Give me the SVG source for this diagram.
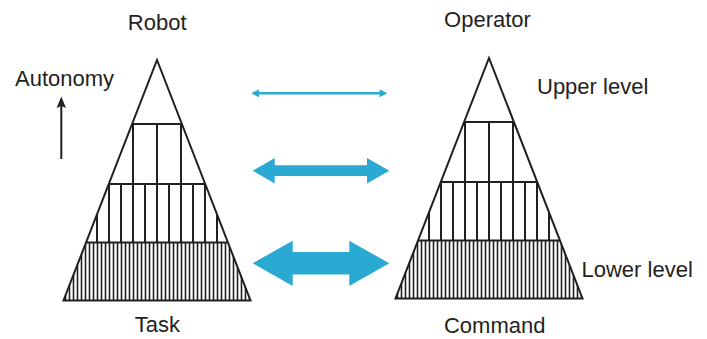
<svg xmlns="http://www.w3.org/2000/svg" xmlns:xlink="http://www.w3.org/1999/xlink" width="707" height="339" viewBox="0 0 707 339">
<style>
  .lbl { font-family: "Liberation Sans", Arial, sans-serif; font-size: 22px; fill: #231f20; }
  .mid { text-anchor: middle; }
  .ink { stroke: #231f20; fill: none; }
  .outline { stroke-width: 2; stroke-linejoin: miter; }
  .v12 { stroke-width: 2; }
  .v3 { stroke-width: 1.6; }
  .flow { fill: #2aa9d2; stroke: none; }
</style>
<defs>
  <clipPath id="triClip">
    <polygon points="157,60 250.5,300.5 63.5,300.5"/>
  </clipPath>
  <g id="pyramid">
    <g clip-path="url(#triClip)" class="ink">
      <path class="v12" d="M133,124V184 M157,124V184 M181,124V184"/>
      <path class="v12" d="M97,184V242.5 M109,184V242.5 M121,184V242.5 M133,184V242.5 M145,184V242.5 M157,184V242.5 M169,184V242.5 M181,184V242.5 M193,184V242.5 M205,184V242.5 M217,184V242.5"/>
      <path class="v3" d="M65.5,242.5V300.5 M69.5,242.5V300.5 M73.5,242.5V300.5 M77.5,242.5V300.5 M81.5,242.5V300.5 M85.5,242.5V300.5 M89.5,242.5V300.5 M93.5,242.5V300.5 M97.5,242.5V300.5 M101.5,242.5V300.5 M105.5,242.5V300.5 M109.5,242.5V300.5 M113.5,242.5V300.5 M117.5,242.5V300.5 M121.5,242.5V300.5 M125.5,242.5V300.5 M129.5,242.5V300.5 M133.5,242.5V300.5 M137.5,242.5V300.5 M141.5,242.5V300.5 M145.5,242.5V300.5 M149.5,242.5V300.5 M153.5,242.5V300.5 M157.5,242.5V300.5 M161.5,242.5V300.5 M165.5,242.5V300.5 M169.5,242.5V300.5 M173.5,242.5V300.5 M177.5,242.5V300.5 M181.5,242.5V300.5 M185.5,242.5V300.5 M189.5,242.5V300.5 M193.5,242.5V300.5 M197.5,242.5V300.5 M201.5,242.5V300.5 M205.5,242.5V300.5 M209.5,242.5V300.5 M213.5,242.5V300.5 M217.5,242.5V300.5 M221.5,242.5V300.5 M225.5,242.5V300.5 M229.5,242.5V300.5 M233.5,242.5V300.5 M237.5,242.5V300.5 M241.5,242.5V300.5 M245.5,242.5V300.5 M249.5,242.5V300.5"/>
    </g>
    <path class="ink outline" d="M132.1,124H181.9 M108.8,184H205.2 M86,242.5H228"/>
    <polygon class="ink outline" points="157,60 250.5,300.5 63.5,300.5"/>
  </g>
</defs>

<g id="robot-pyramid">
  <use xlink:href="#pyramid" href="#pyramid"/>
</g>
<g id="operator-pyramid">
  <use xlink:href="#pyramid" href="#pyramid" transform="translate(332,-2)"/>
</g>

<g id="labels">
  <text class="lbl mid" x="157.2" y="30">Robot</text>
  <text class="lbl mid" x="487.5" y="27">Operator</text>
  <text class="lbl" x="15" y="86">Autonomy</text>
  <text class="lbl" x="537" y="94">Upper level</text>
  <text class="lbl" x="581.5" y="277">Lower level</text>
  <text class="lbl mid" x="157.3" y="332">Task</text>
  <text class="lbl mid" x="494.7" y="333.3">Command</text>
</g>

<g id="autonomy-arrow">
  <line class="ink" stroke-width="2" x1="61.3" y1="159" x2="61.3" y2="104"/>
  <polygon points="61.3,96.5 66,108 61.3,106 56.6,108" fill="#231f20"/>
</g>

<g id="connectors">
  <path class="flow" d="M251.3,93.3 L259,89.3 L259,92 L379.6,92 L379.6,89.3 L387.3,93.3 L379.6,97.3 L379.6,94.6 L259,94.6 L259,97.3 Z"/>
  <path class="flow" d="M252.7,170.7 L274.7,158 L274.7,165.3 L367,165.3 L367,158 L389.3,170.7 L367,183.4 L367,176 L274.7,176 L274.7,183.4 Z"/>
  <path class="flow" d="M252.7,263.3 L292.7,240.7 L292.7,252 L349.3,252 L349.3,240.7 L389.3,263.3 L349.3,286 L349.3,274.6 L292.7,274.6 L292.7,286 Z"/>
</g>
</svg>
